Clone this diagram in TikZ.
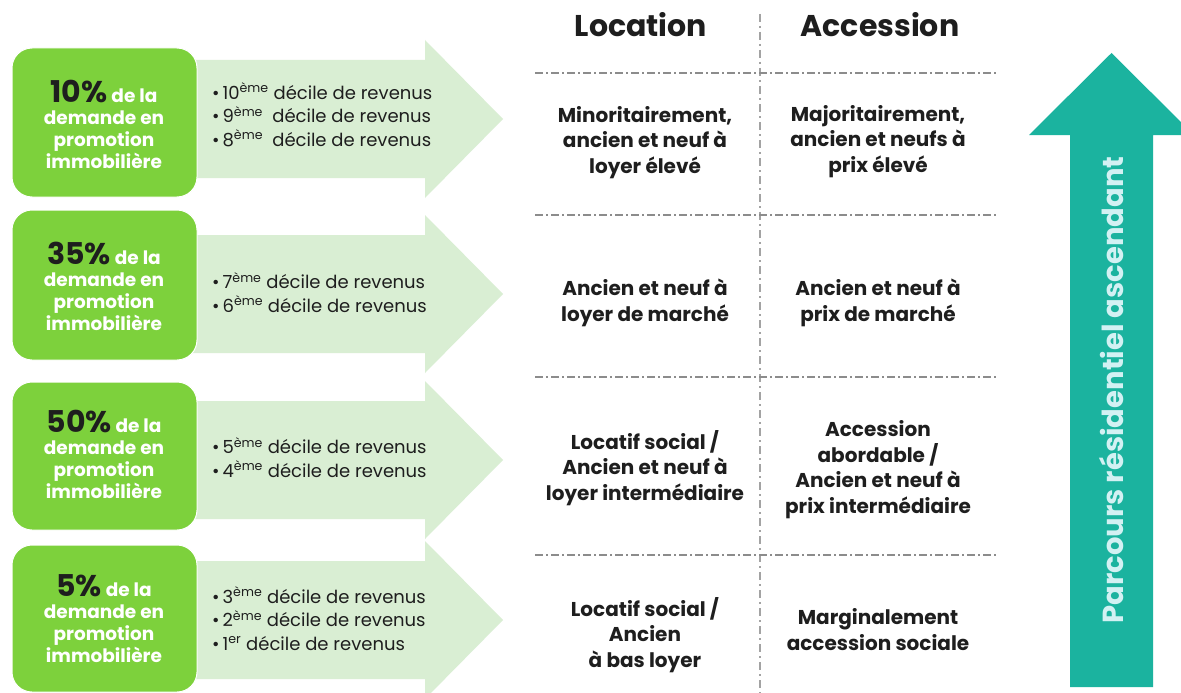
\documentclass[tikz,border=0pt]{standalone}
\usepackage{fontspec}
\setmainfont{Poppins}
\definecolor{boxgreen}{HTML}{7DD13C}
\definecolor{palegreen}{HTML}{D9EED3}
\definecolor{pathteal}{HTML}{1BB39F}
\definecolor{pathtext}{HTML}{D3F1F3}
\definecolor{sepgray}{HTML}{8C8C8C}
\definecolor{ink}{HTML}{1E1E1E}
\begin{document}
\begin{tikzpicture}[x=1pt,y=-1pt,
  band/.style={fill=palegreen},
  sharebox/.style={fill=boxgreen,draw=white,line width=1pt,rounded corners=20pt},
  % multi-line nodes: the base anchor sits on the last line
  sharetext/.style={anchor=base,align=center,inner sep=0pt,text=white,
    font=\fontsize{18.5}{22}\selectfont\bfseries},
  decile/.style={anchor=base west,align=left,inner sep=0pt,text=ink,
    font=\fontsize{18}{23.5}\selectfont},
  head/.style={anchor=base,inner sep=0pt,text=ink,font=\fontsize{30}{36}\selectfont\bfseries},
  cell/.style={anchor=base,align=center,inner sep=0pt,text=ink,
    font=\fontsize{20}{25.5}\selectfont\bfseries},
  sep/.style={draw=sepgray,line width=1.8pt,dash pattern=on 8pt off 3pt on 2pt off 3pt},
  vsep/.style={draw=sepgray!80,line width=1.6pt,dash pattern=on 8pt off 4pt on 2pt off 4pt}
]
\useasboundingbox (0,0) rectangle (1181,693);
\fill[white] (0,0) rectangle (1181,693);

% pale arrows carrying the income deciles
\foreach \c in {119,294,460,620}{
  \fill[band] (190,\c-59) -- (425,\c-59) -- (425,\c-79) -- (503,\c)
    -- (425,\c+79) -- (425,\c+59) -- (190,\c+59) -- cycle;
}

% green share boxes
\path[sharebox] (12,48) rectangle (197,197);
\path[sharebox] (12,210) rectangle (197,360);
\path[sharebox] (12,382) rectangle (197,530);
\path[sharebox] (12,545) rectangle (197,692);

\newcommand{\pct}[1]{\smash{\color{ink}\fontsize{30}{30}\selectfont #1}}
\node[sharetext] (s1) at (104,168) {\pct{10\%} de la\\demande en\\promotion\\immobilière};
\node[sharetext] (s2) at (104,330) {\pct{35\%} de la\\demande en\\promotion\\immobilière};
\node[sharetext] (s3) at (104,498) {\pct{50\%} de la\\demande en\\promotion\\immobilière};
\node[sharetext] (s4) at (104,662) {\pct{5\%} de la\\demande en\\promotion\\immobilière};

\newcommand{\dec}[2]{\textbullet\,#1\textsuperscript{#2}}
\node[decile] (d1) at (212,146) {\dec{10}{ème} décile de revenus\\\dec{9}{ème}\hspace{0.25em} décile de revenus\\\dec{8}{ème}\hspace{0.25em} décile de revenus};
\node[decile] (d2) at (212,312) {\dec{7}{ème} décile de revenus\\\dec{6}{ème} décile de revenus};
\node[decile] (d3) at (212,477) {\dec{5}{ème} décile de revenus\\\dec{4}{ème} décile de revenus};
\node[decile] (d4) at (212,650) {\dec{3}{ème} décile de revenus\\\dec{2}{ème} décile de revenus\\\dec{1}{er} décile de revenus};

% table grid
\draw[vsep] (760,14) -- (760,693);
\foreach \y in {73,215,377,555}{
  \draw[sep] (535,\y) -- (997,\y);
}

% column headings
\node[head] (hloc) at (641,37) {Location};
\node[head] (hacc) at (880,37) {Accession};

% cells
\node[cell] (l1) at (645,173) {Minoritairement,\\ancien et neuf à\\loyer élevé};
\node[cell] (a1) at (878,172) {Majoritairement,\\ancien et neufs à\\prix élevé};
\node[cell] (l2) at (645,321) {Ancien et neuf à\\loyer de marché};
\node[cell] (a2) at (878,321) {Ancien et neuf à\\prix de marché};
\node[cell] (l3) at (645,500) {Locatif social /\\Ancien et neuf à\\loyer intermédiaire};
\node[cell] (a3) at (878,513) {Accession\\abordable /\\Ancien et neuf à\\prix intermédiaire};
\node[cell] (l4) at (645,667) {Locatif social /\\Ancien\\à bas loyer};
\node[cell] (a4) at (878,650) {Marginalement\\accession sociale};

% upward path arrow
\fill[pathteal] (1070,687) -- (1070,135) -- (1029,135) -- (1111.5,53)
  -- (1194,135) -- (1153,135) -- (1153,687) -- cycle;
\node[rotate=90,text=pathtext,inner sep=0pt,font=\fontsize{29}{32}\selectfont\bfseries]
  (path) at (1112,390) {Parcours résidentiel ascendant};
\end{tikzpicture}
\end{document}
